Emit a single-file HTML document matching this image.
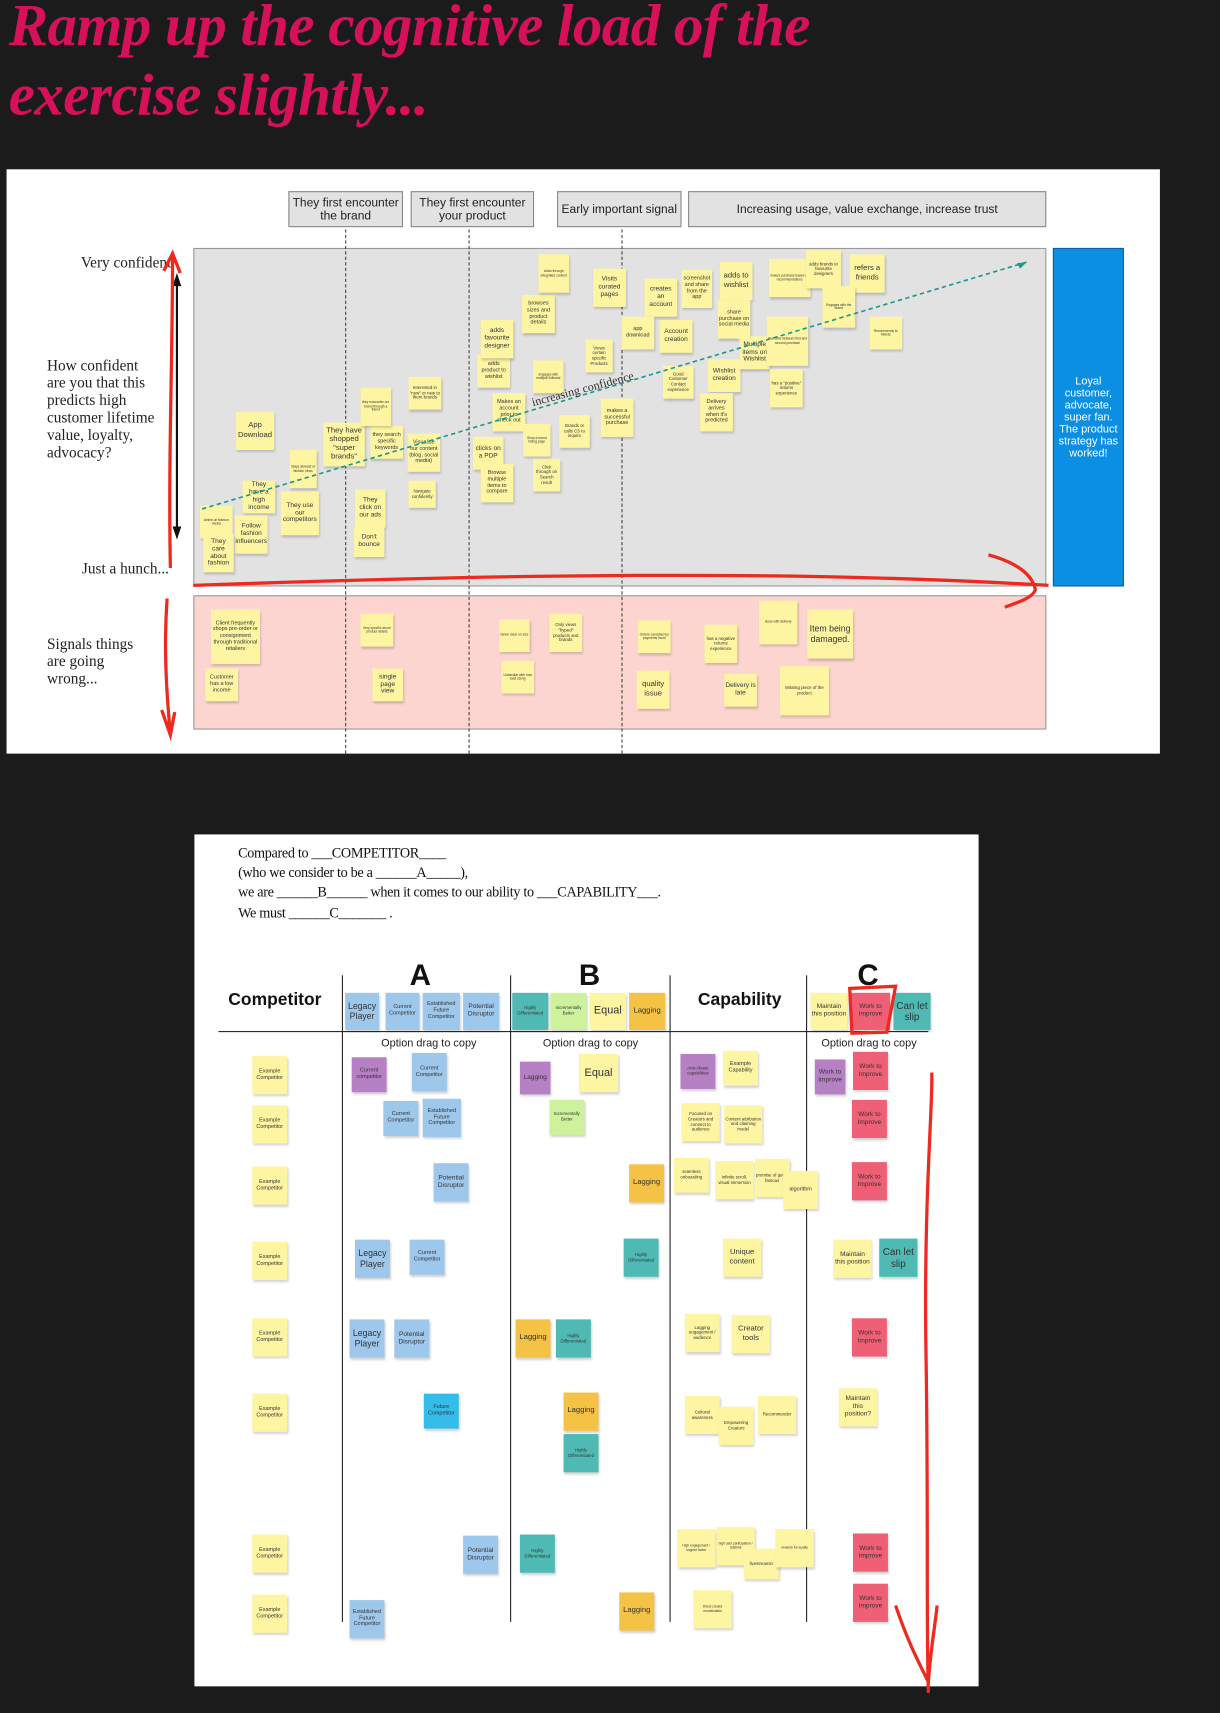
<!DOCTYPE html>
<html><head><meta charset="utf-8">
<style>
html,body{margin:0;padding:0;background:#1b1b1b;width:1220px;height:1712px;overflow:hidden}
#wrap{position:absolute;left:0;top:0;width:1117px;height:1568px;transform:scale(1.0922);transform-origin:0 0;font-family:"Liberation Sans",sans-serif}
.abs{position:absolute}
.title{position:absolute;left:8px;color:#d6115a;font-family:"Liberation Serif",serif;font-weight:bold;font-style:italic;font-size:54px;white-space:nowrap;letter-spacing:-0.5px}
.hdr{position:absolute;top:175px;height:33px;background:#e2e2e2;border:1px solid #888;box-sizing:border-box;font-size:11px;color:#222;display:flex;align-items:center;justify-content:center;text-align:center;line-height:12px}
.vd{position:absolute;top:210px;height:480px;border-left:1px dashed #444;width:0}
.lbl{position:absolute;font-family:"Liberation Serif",serif;font-size:14px;color:#222;line-height:16px}
.st{position:absolute;display:flex;align-items:center;justify-content:center;text-align:center;box-shadow:1px 2px 2px rgba(0,0,0,.18);color:#333;line-height:1.15;overflow:hidden;box-sizing:border-box;padding:1px}
.sent{position:absolute;left:218px;font-family:"Liberation Serif",serif;font-size:13px;color:#111;white-space:nowrap;letter-spacing:-0.3px}
.big{position:absolute;font-weight:bold;font-size:27px;color:#111}
.colh{position:absolute;font-weight:bold;font-size:16px;color:#111}
.opt{position:absolute;font-size:10px;color:#222;white-space:nowrap}
.vl{position:absolute;top:893px;height:592px;border-left:1px solid #222;width:0}
</style></head><body>
<div id="wrap">
<div class="title" style="top:-8px">Ramp up the cognitive load of the</div>
<div class="title" style="top:56px">exercise slightly...</div>

<div class="abs" style="left:6px;top:155px;width:1056px;height:535px;background:#fff"></div>
<div class="abs" style="left:177px;top:227px;width:781px;height:310px;background:#e2e2e2;border:1px solid #999;box-sizing:border-box"></div>
<div class="abs" style="left:964px;top:227px;width:65px;height:310px;background:#0b8fe3;border:1px solid #0a5fa0;box-sizing:border-box;color:#fff;font-size:10px;display:flex;align-items:center;justify-content:center;text-align:center;line-height:11px">Loyal<br>customer,<br>advocate,<br>super fan.<br>The product<br>strategy has<br>worked!</div>
<div class="abs" style="left:177px;top:545px;width:781px;height:123px;background:#fdd5d0;border:1px solid #999;box-sizing:border-box"></div>

<div class="hdr" style="left:264px;width:105px">They first encounter<br>the brand</div>
<div class="hdr" style="left:376px;width:113px">They first encounter<br>your product</div>
<div class="hdr" style="left:510px;width:114px">Early important signal</div>
<div class="hdr" style="left:630px;width:328px">Increasing usage, value exchange, increase trust</div>
<div class="vd" style="left:316px"></div>
<div class="vd" style="left:429px"></div>
<div class="vd" style="left:569px"></div>

<div class="lbl" style="left:74px;top:234px;white-space:nowrap">Very confident</div>
<div class="lbl" style="left:43px;top:328px;width:102px">How confident are you that this predicts high customer lifetime value, loyalty, advocacy?</div>
<div class="lbl" style="left:75px;top:514px;white-space:nowrap">Just a hunch...</div>
<div class="lbl" style="left:43px;top:583px;width:90px">Signals things are going wrong...</div>

<div class="abs" style="left:178px;top:764px;width:718px;height:780px;background:#fff"></div>
<div class="sent" style="top:773px">Compared to ___COMPETITOR____</div>
<div class="sent" style="top:791px">(who we consider to be a ______A_____),</div>
<div class="sent" style="top:809px">we are ______B______ when it comes to our ability to ___CAPABILITY___.</div>
<div class="sent" style="top:828px">We must ______C_______ .</div>
<div class="big" style="left:375px;top:878px">A</div>
<div class="big" style="left:530px;top:878px">B</div>
<div class="big" style="left:785px;top:878px">C</div>
<div class="colh" style="left:209px;top:907px">Competitor</div>
<div class="colh" style="left:639px;top:907px">Capability</div>
<div class="abs" style="left:200px;top:944px;width:650px;border-top:1px solid #222"></div>
<div class="vl" style="left:313px"></div>
<div class="vl" style="left:467px"></div>
<div class="vl" style="left:613px"></div>
<div class="vl" style="left:738px"></div>
<div class="opt" style="left:349px;top:950px">Option drag to copy</div>
<div class="opt" style="left:497px;top:950px">Option drag to copy</div>
<div class="opt" style="left:752px;top:950px">Option drag to copy</div>

<div id="notes"></div>

<svg class="abs" style="left:0;top:0" width="1117" height="1568">
<line x1="185" y1="466" x2="940" y2="240" stroke="#1a9a8a" stroke-width="1.5" stroke-dasharray="4,3"/>
<polygon points="940,240 931,241 934,246" fill="#1a9a8a"/>
<text x="488" y="372" font-family="Liberation Serif,serif" font-size="11" fill="#333" transform="rotate(-15 488 372)">increasing confidence</text>
<line x1="162" y1="258" x2="162" y2="488" stroke="#111" stroke-width="2"/>
<polygon points="162,250 158,262 166,262" fill="#111"/><polygon points="162,494 158,482 166,482" fill="#111"/>
<path d="M156,520 C154,420 158,330 158,235 M150,248 L158,232 L165,250" stroke="#ee2a1e" stroke-width="3" fill="none"/>
<path d="M177,536 C400,528 700,520 960,536 M905,508 C930,515 945,525 948,540 C945,548 930,552 920,556" stroke="#ee2a1e" stroke-width="3" fill="none"/>
<path d="M153,548 C150,590 152,630 156,672 M148,650 L156,673 L160,652" stroke="#ee2a1e" stroke-width="3" fill="none"/>
<path d="M778,905 L820,903 L812,945 L780,946 Z" stroke="#ee2a1e" stroke-width="3" fill="none"/>
<path d="M853,982 C855,1000 845,1100 848,1250 C850,1400 848,1480 850,1550 M820,1470 C830,1500 840,1520 850,1540 C852,1510 856,1490 858,1470" stroke="#ee2a1e" stroke-width="3" fill="none"/>
</svg>
</div>
<script>
var Y='#fdf5a2',BL='#9ec7ec',PU='#b680c4',TE='#4fbab4',GR='#cdf29b',OR='#f4c244',RD='#ef5f75',CY='#35bde9';
var notes=[
[216,377,35,35,'App Download',7],[296,387,38,40,'They have shopped "super brands"',7],[339,390,30,30,'they search specific keywords',5],
[373,397,30,35,'Visualise our content (blog, social media)',5],[374,345,30,30,'Interested in "new" or new to them brands',4],
[330,355,28,35,'they encounter our brand through a friend',3],[265,412,25,35,'Stays abreast of fashion news',3],
[222,440,30,30,'They have a high income',6],[257,450,35,40,'They use our competitors',6],[183,463,30,30,'Active on fashion media',3],
[215,472,30,35,'Follow fashion influencers',6],[186,489,28,35,'They care about fashion',6],[325,448,28,35,'They click on our ads',6],
[324,482,28,28,"Don't bounce",6],[374,440,25,25,'Navigate confidently',4],[433,400,28,30,'clicks on a PDP',6],
[440,425,30,35,'Browse multiple items to compare',5],[488,420,25,30,'Click through on Search result',4],
[451,360,30,35,'Makes an account prior to check out',5],[479,388,25,30,'Shop a brand listing page',3],
[512,380,28,30,'Brands or calls CS to inquire',4],[550,365,30,35,'makes a successful purchase',5],
[437,325,30,30,'adds product to wishlist',5],[440,293,30,35,'adds favourite designer',6],[478,270,30,35,'browses sizes and product details',5],
[493,233,28,35,'clicks through integrated content',3],[488,330,28,30,'Engages with multiple Editorial',3],
[536,311,25,30,'Views certain specific Products',4],[543,246,30,35,'Visits curated pages',6],[590,255,30,35,'creates an account',6],
[569,290,30,30,'app download',5],[624,247,28,35,'screenshot and share from the app',5],[659,240,30,35,'adds to wishlist',7],
[604,293,30,30,'Account creation',6],[607,335,28,30,'Good Customer Contact experience',4],[657,275,30,35,'share purchase on social media',5],
[648,329,30,30,'Wishlist creation',6],[641,360,30,35,"Delivery arrives when it's predicted",5],[677,308,28,30,'Multiple items on Wishlist',6],
[704,237,38,35,'makes purchase based on recommendations',3],[738,229,32,35,'adds brands to favourite designers',4],
[778,233,32,35,'refers a friends',7],[753,262,30,38,'Engages with the brand',3],[702,290,38,45,'Overtime between first and second purchase',3],
[705,338,30,35,'has a "positive" returns experience',4],[796,290,30,30,'Recommends to friends',3],
[193,558,45,50,'Client frequently shops pre-order or consignment through traditional retailers',5],[188,612,30,30,'Customer has a low income',5],
[330,562,30,30,'Very specific about product details',3],[341,612,28,30,'single page view',6],[457,567,28,30,'Never clear on size',3],
[459,605,30,30,'Unfamiliar with how load sizing',3],[503,562,30,35,'Only views "hyped" products and brands',4],
[584,568,30,30,'Orders cancelled by payments fraud',3],[645,572,30,35,'has a negative returns experience',4],
[695,550,35,40,'Issue with delivery',3],[739,558,42,45,'Item being damaged.',8],[583,614,30,35,'quality issue',7],
[663,617,30,30,'Delivery is late',6],[714,610,45,45,'Missing piece of the product',4]
];
var notes2=[
[322,968,32,32,'Current competitor',5,PU],[377,964,32,35,'Current Competitor',5,BL],[351,1008,32,32,'Current Competitor',5,BL],
[387,1006,35,35,'Established Future Competitor',5,BL],[397,1065,32,35,'Potential Disruptor',6,BL],[325,1135,32,35,'Legacy Player',8,BL],
[375,1135,32,32,'Current Competitor',5,BL],[320,1208,32,35,'Legacy Player',8,BL],[361,1208,32,35,'Potential Disruptor',6,BL],
[388,1276,32,32,'Future Competitor',5,CY],[424,1406,32,35,'Potential Disruptor',6,BL],[320,1465,32,35,'Established Future Competitor',5,BL],
[476,972,28,30,'Lagging',6,PU],[530,965,36,35,'Equal',10,Y],[503,1007,32,32,'Incrementally Better',4,GR],[576,1066,32,35,'Lagging',7,OR],
[571,1134,32,35,'Highly Differentiated',4,TE],[472,1208,32,35,'Lagging',7,OR],[509,1208,32,35,'Highly Differentiated',4,TE],
[516,1275,32,35,'Lagging',7,OR],[516,1313,32,35,'Highly Differentiated',4,TE],[476,1405,32,35,'Highly Differentiated',4,TE],[567,1458,32,35,'Lagging',7,OR],
[623,965,32,32,'Anti-Abuse capabilities',4,PU],[662,962,32,32,'Example Capability',5,Y],[624,1010,35,35,'Focused on Creators and connect to audience',4,Y],
[663,1012,35,35,'Content attribution and claiming model',4,Y],[617,1060,32,32,'seamless onboarding',4,Y],[655,1063,35,35,'infinite scroll, visual immersion',4,Y],
[691,1061,32,35,'promise of gettin famous',4,Y],[717,1072,32,35,'algorithm',5,Y],[662,1134,35,35,'Unique content',7,Y],
[627,1203,32,35,'Lagging engagement / audience',4,Y],[670,1204,35,35,'Creator tools',7,Y],[627,1278,32,35,'Cultural awareness',4,Y],
[658,1288,32,35,'Empowering Creators',4,Y],[694,1278,35,35,'Recommender',4,Y],[620,1400,35,35,'High engagement / support factor',3,Y],
[656,1398,35,35,'high user participation / realtime',3,Y],[681,1418,32,28,'livestreamin',4,Y],[710,1400,35,35,'rewards for loyalty',3,Y],
[635,1456,35,35,'Direct creator monetization',3,Y],
[746,970,28,32,'Work to Improve',6,PU],[781,963,32,35,'Work to Improve',6,RD],[780,1007,32,35,'Work to Improve',6,RD],
[780,1064,32,35,'Work to Improve',6,RD],[763,1135,35,35,'Maintain this position',6,Y],[805,1134,35,35,'Can let slip',9,TE],
[780,1207,32,35,'Work to Improve',6,RD],[768,1271,35,35,'Maintain this position?',6,Y],[781,1404,32,35,'Work to Improve',6,RD],[781,1450,32,35,'Work to Improve',6,RD],
[316,909,31,34,'Legacy Player',8,BL],[353,909,31,34,'Current Competitor',5,BL],[387,909,34,34,'Established Future Competitor',5,BL],[424,909,33,34,'Potential Disruptor',6,BL],
[469,909,33,34,'Highly Differentiated',4,TE],[504,909,33,34,'Incrementally Better',4,GR],[540,909,33,34,'Equal',10,Y],[576,909,33,34,'Lagging',7,OR],
[742,909,34,34,'Maintain this position',6,Y],[779,909,36,34,'Work to Improve',6,RD],[818,909,34,34,'Can let slip',9,TE]
];
var compY=[967,1012,1068,1137,1207,1276,1405,1460];
var host=document.getElementById('notes');
function mk(x,y,w,h,t,f,c){
 var d=document.createElement('div');d.className='st';
 d.style.cssText='left:'+x+'px;top:'+y+'px;width:'+w+'px;height:'+h+'px;font-size:'+f+'px;background:'+c;
 d.textContent=t;
 
 
 host.appendChild(d);
}
notes.forEach(function(n){mk(n[0],n[1],n[2],n[3],n[4],n[5],Y);});
notes2.forEach(function(n){mk(n[0],n[1],n[2],n[3],n[4],n[5],n[6]);});
compY.forEach(function(y){mk(231,y,32,35,'Example Competitor',5,Y);});
</script>
</body></html>
